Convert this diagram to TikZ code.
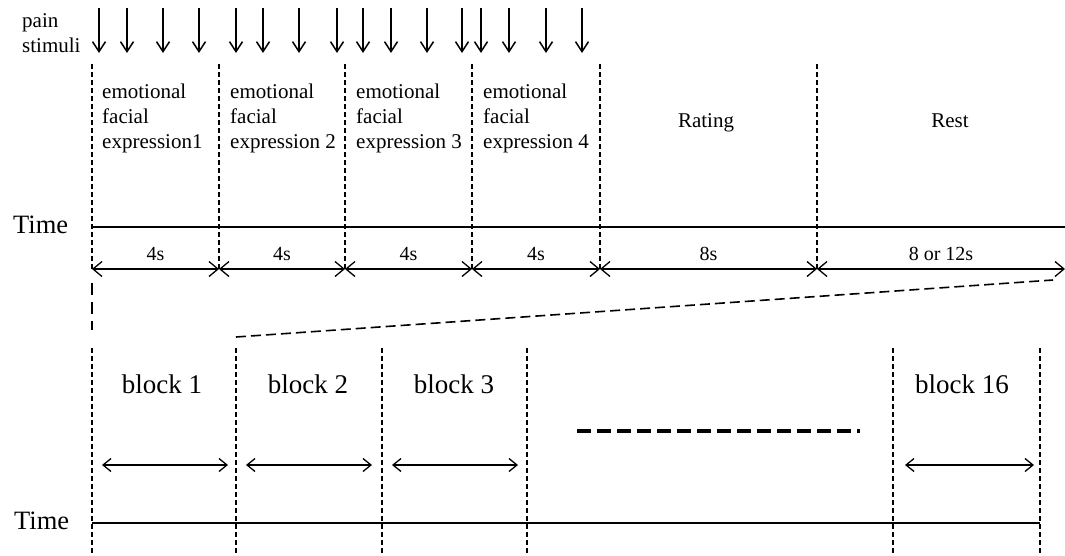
\documentclass[tikz,border=0pt]{standalone}
\usepackage{fontspec}
\setmainfont{Liberation Serif}
\usetikzlibrary{arrows.meta}
\tikzset{
  guide/.style={line width=1.1pt, dash pattern=on 5pt off 3pt},
  guidelong/.style={line width=1.4pt, dash pattern=on 12pt off 7pt},
  zoomline/.style={line width=1.6pt, dash pattern=on 10pt off 5pt},
  gapline/.style={line width=4pt, dash pattern=on 14pt off 6pt},
  axis/.style={line width=1.6pt},
  span/.style={line width=1.3pt,
    {Straight Barb[length=9pt,width=15pt]}-{Straight Barb[length=9pt,width=15pt]}},
  blockspan/.style={line width=1.3pt,
    {Straight Barb[length=8pt,width=13pt]}-{Straight Barb[length=8pt,width=13pt]}},
  stim/.style={line width=1.5pt, -{Straight Barb[length=10pt,width=13pt]}},
  small/.style={font=\fontsize{21}{25}\selectfont, inner sep=0pt},
  phase/.style={small, anchor=north west, align=left},
  dur/.style={font=\fontsize{20}{22}\selectfont, inner sep=0pt, anchor=base},
  big/.style={font=\fontsize{26.5}{30}\selectfont, inner sep=0pt, anchor=base west},
  blk/.style={font=\fontsize{27}{30}\selectfont, inner sep=0pt, anchor=base},
}
\begin{document}
\begin{tikzpicture}[x=1pt, y=-1pt]
\useasboundingbox (0,0) rectangle (1065,555);

% ---- pain stimuli
\node[small, anchor=base west] (pain) at (22,27) {pain};
\node[small, anchor=base west] (stimuli) at (22,52) {stimuli};
\foreach \x [count=\i] in {99,127,163,199,236,263,299,337,363,391,427,462,481,509,546,582} {
  \coordinate (ptop\i) at (\x,8);
  \coordinate (ptip\i) at (\x,53);
  \draw[stim] (ptop\i) -- (ptip\i);
}

% ---- trial timeline: column boundaries
\foreach \x [count=\i from 0] in {92,219,345,472,600,817} {
  \coordinate (ctop\i) at (\x,64);
  \coordinate (cax\i) at (\x,227);
  \coordinate (cdur\i) at (\x,269);
  \draw[guide] (ctop\i) -- (cdur\i);
}
\coordinate (cax6) at (1065,227);
\coordinate (cdur6) at (1065,269);

% phase labels
\node[phase] (e1) at (102,84) {emotional\\facial\\expression1};
\node[phase] (e2) at (230,84) {emotional\\facial\\expression 2};
\node[phase] (e3) at (356,84) {emotional\\facial\\expression 3};
\node[phase] (e4) at (483,84) {emotional\\facial\\expression 4};
\node[small, anchor=base] (rating) at (706,127) {Rating};
\node[small, anchor=base] (rest) at (950,127) {Rest};

% time axis
\node[big] (time1) at (13,233) {Time};
\draw[axis] (cax0) -- (cax6);

% durations
\draw[span] (cdur0) -- (cdur1);
\draw[span] (cdur1) -- (cdur2);
\draw[span] (cdur2) -- (cdur3);
\draw[span] (cdur3) -- (cdur4);
\draw[span] (cdur4) -- (cdur5);
\draw[span] (cdur5) -- (cdur6);
\node[dur] (d1) at (155.5,260) {4s};
\node[dur] (d2) at (282,260) {4s};
\node[dur] (d3) at (408.5,260) {4s};
\node[dur] (d4) at (536,260) {4s};
\node[dur] (d5) at (708.5,260) {8s};
\node[dur] (d6) at (941,260) {8 or 12s};

% zoom lines from the trial to block 2
\coordinate (zltop) at (92,283);
\coordinate (zlbot) at (92,330);
\draw[guidelong] (zltop) -- (zlbot);
\coordinate (zra) at (236,337);
\coordinate (zrb) at (1053,280);
\draw[zoomline] (zra) -- (zrb);

% ---- session timeline
\foreach \x [count=\i from 0] in {92,236,382,527,893,1040} {
  \coordinate (btop\i) at (\x,348);
  \coordinate (bax\i) at (\x,523);
  \coordinate (bbot\i) at (\x,555);
  \draw[guide] (btop\i) -- (bbot\i);
}
\node[blk] (blk1) at (162,393) {block 1};
\node[blk] (blk2) at (308,393) {block 2};
\node[blk] (blk3) at (454,393) {block 3};
\node[blk] (blk16) at (962,393) {block 16};

\coordinate (a1l) at (102,465); \coordinate (a1r) at (228,465);
\coordinate (a2l) at (246,465); \coordinate (a2r) at (372,465);
\coordinate (a3l) at (392,465); \coordinate (a3r) at (518,465);
\coordinate (a4l) at (905,465); \coordinate (a4r) at (1034,465);
\draw[blockspan] (a1l) -- (a1r);
\draw[blockspan] (a2l) -- (a2r);
\draw[blockspan] (a3l) -- (a3r);
\draw[blockspan] (a4l) -- (a4r);

\coordinate (gapl) at (577,431);
\coordinate (gapr) at (860,431);
\draw[gapline] (gapl) -- (gapr);

\node[big] (time2) at (14,529) {Time};
\draw[axis] (bax0) -- (bax5);
\end{tikzpicture}
\end{document}
